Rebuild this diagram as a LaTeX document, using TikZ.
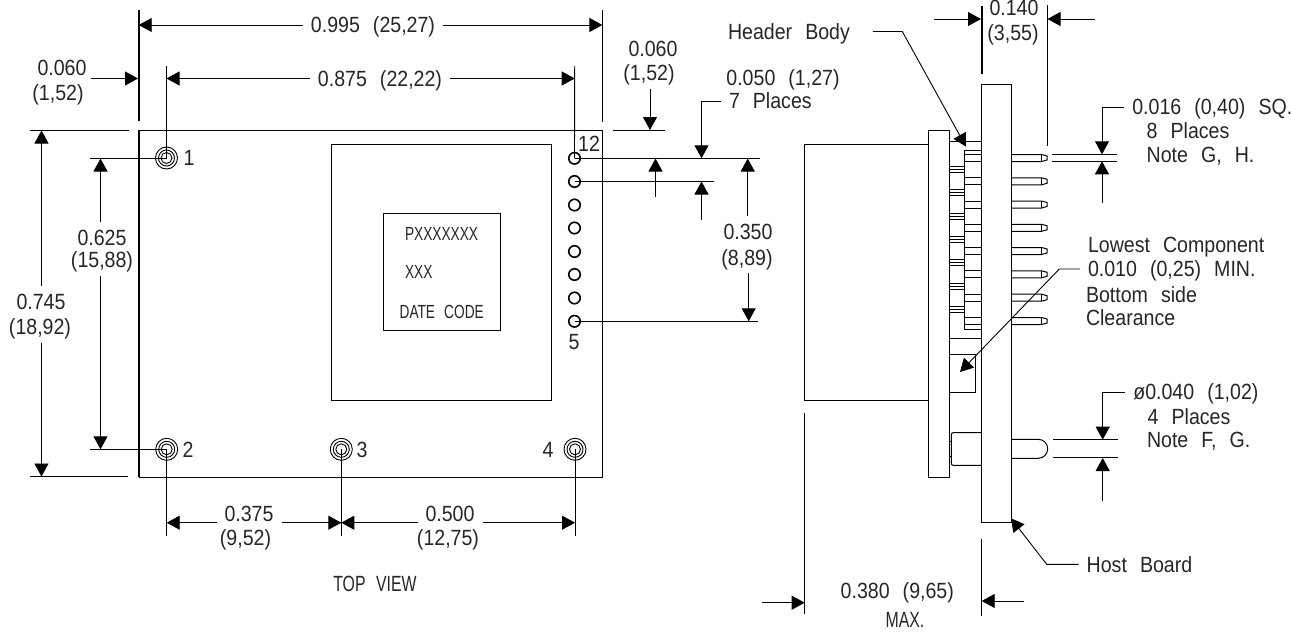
\documentclass[tikz,border=0pt]{standalone}
\usepackage{fontspec}
\setmainfont{Liberation Sans}[FakeStretch=0.89,WordSpace=2.4]
\newfontfamily\capsfont{Liberation Sans}[FakeStretch=0.72,WordSpace=2.4]
\usepackage{tikz}
\usetikzlibrary{arrows.meta}
\tikzset{
	dimline/.style={-{Triangle[length=13pt,width=14pt]},line width=0.9pt},
	extline/.style={line width=0.9pt},
	outline/.style={line width=1pt},
	thickline/.style={line width=2pt},
	dimtext/.style={inner sep=0pt,outer sep=8pt,text height=15.5pt,text depth=0pt,text=black!85,font=\fontsize{22}{24}\selectfont},
	captext/.style={dimtext,font=\fontsize{22}{24}\capsfont},
	boxtext/.style={dimtext,text height=13pt,font=\fontsize{19}{20}\capsfont},
	holering/.style={circle,draw,line width=0.9pt,inner sep=0pt},
	padhole/.style={circle,draw,line width=1.6pt,inner sep=0pt,minimum size=11.5pt}
}
\begin{document}
\begin{tikzpicture}[x=1pt,y=-1pt]
	\useasboundingbox (0,0) rectangle (1291,634);
	\draw[outline] (138.7,130) -- (602.5,130) -- (602.5,477.3) -- (138.7,477.3);
	\draw[thickline] (138.7,130) -- (138.7,477.3);
	\draw[outline] (331.5,144) rectangle (551.7,400.7);
	\draw[outline] (383.5,213.5) rectangle (500,330.5);
	\node[boxtext] (partno) at (441.5,234) {PXXXXXXX};
	\node[boxtext] (lotno) at (418.8,272) {XXX};
	\node[boxtext] (datecode) at (441.7,311.7) {DATE CODE};
	\foreach \nm/\xp/\yp in {1/166.5/158,2/166.7/449.3,3/341.3/449.3,4/575/449.3}{
		\node[holering,minimum size=22pt] (hole\nm) at (\xp,\yp) {};
		\node[holering,minimum size=16pt] (holem\nm) at (\xp,\yp) {};
		\node[holering,minimum size=11pt] (holei\nm) at (\xp,\yp) {};
	}
	\node[dimtext] (lab1) at (189,158) {1};
	\node[dimtext] (lab2) at (188,449.3) {2};
	\node[dimtext] (lab3) at (362,449.3) {3};
	\node[dimtext] (lab4) at (548,449.3) {4};
	\foreach \nm/\yp in {12/158.3,11/181.5,10/205,9/228,8/251.5,7/274.5,6/298,5/321.3}{
		\node[padhole] (pad\nm) at (574.5,\yp) {};
	}
	\node[dimtext] (lab12) at (589,144) {12};
	\node[dimtext] (lab5) at (574,341.6) {5};
	\coordinate (edgeL) at (138.7,10);
	\coordinate (edgeLb) at (138.7,121);
	\coordinate (edgeR) at (602.4,10);
	\coordinate (edgeRb) at (602.4,122);
	\draw[thickline] (edgeL) -- (edgeLb);
	\draw[extline] (edgeR) -- (edgeRb);
	\node[dimtext] (d995) at (373,25) {0.995 (25,27)};
	\draw[dimline] (d995.west) -- (d995.west -| edgeL);
	\draw[dimline] (d995.east) -- (d995.east -| edgeR);
	\coordinate (ext875a) at (166.5,66);
	\coordinate (ext875b) at (574.7,66);
	\node[dimtext] (d875) at (380,78.5) {0.875 (22,22)};
	\draw[extline] (ext875a) -- (hole1.center);
	\draw[extline] (ext875b) -- (pad12.center);
	\draw[dimline] (d875.west) -- (d875.west -| ext875a);
	\draw[dimline] (d875.east) -- (d875.east -| ext875b);
	\node[dimtext] (d060la) at (62,68) {0.060};
	\node[dimtext] (d060lb) at (58,93) {(1,52)};
	\coordinate (tip060l) at (138,78.5);
	\coordinate (from060l) at (91,78.5);
	\draw[dimline] (from060l) -- (tip060l);
	\coordinate (ext745a) at (30,130);
	\coordinate (ext745b) at (129,130);
	\coordinate (ext745c) at (30,476.7);
	\coordinate (ext745d) at (128,476.7);
	\draw[extline] (ext745a) -- (ext745b);
	\draw[extline] (ext745c) -- (ext745d);
	\node[dimtext] (d745a) at (41,301.7) {0.745};
	\node[dimtext] (d745b) at (40,327) {(18,92)};
	\coordinate (tip745t) at (41.5,130.5);
	\coordinate (tip745b) at (41.5,476.5);
	\draw[dimline] (tip745t |- d745a.north) -- (tip745t);
	\draw[dimline] (tip745b |- d745b.south) -- (tip745b);
	\coordinate (ext625a) at (90,158);
	\coordinate (ext625b) at (90,449.3);
	\draw[extline] (ext625a) -- (hole1.center);
	\draw[extline] (ext625b) -- (hole2.center);
	\node[dimtext] (d625a) at (102,238) {0.625};
	\node[dimtext] (d625b) at (102,260) {(15,88)};
	\coordinate (tip625t) at (100.5,158.5);
	\coordinate (tip625b) at (100.5,449.3);
	\draw[dimline] (tip625t |- d625a.north) -- (tip625t);
	\draw[dimline] (tip625b |- d625b.south) -- (tip625b);
	\coordinate (dimB) at (0,522.7);
	\coordinate (extB) at (0,535.5);
	\draw[extline] (hole2.center) -- (hole2 |- extB);
	\draw[extline] (hole3.center) -- (hole3 |- extB);
	\draw[extline] (hole4.center) -- (hole4 |- extB);
	\node[dimtext] (d375a) at (249,514) {0.375};
	\node[dimtext] (d375b) at (245.5,538) {(9,52)};
	\node[dimtext] (d500a) at (450,514) {0.500};
	\node[dimtext] (d500b) at (448,538) {(12,75)};
	\draw[dimline] (d375a.west |- dimB) -- (hole2 |- dimB);
	\draw[dimline] (d375a.east |- dimB) -- (hole3 |- dimB);
	\draw[dimline] (d500a.west |- dimB) -- (hole3 |- dimB);
	\draw[dimline] (d500a.east |- dimB) -- (hole4 |- dimB);
	\node[captext] (topview) at (375,584) {TOP VIEW};
	\node[dimtext] (d060ra) at (653,49) {0.060};
	\node[dimtext] (d060rb) at (649,73) {(1,52)};
	\coordinate (tip060r) at (650,130);
	\coordinate (ext060a) at (613,130);
	\coordinate (ext060b) at (665,130);
	\draw[extline] (ext060a) -- (ext060b);
	\draw[dimline] (tip060r |- d060rb.south) -- (tip060r);
	\node[dimtext] (d050) at (783,78) {0.050 (1,27)};
	\node[dimtext,anchor=west] (d7pl) at (721,101) {7 Places};
	\coordinate (tip050) at (701.5,158.3);
	\draw[dimline] (d7pl.west) -| (tip050);
	\coordinate (ext12) at (760,158.3);
	\coordinate (ext11) at (714,181.5);
	\coordinate (ext5) at (758,321.3);
	\draw[extline] (pad12.center) -- (ext12);
	\draw[extline] (pad11.center) -- (ext11);
	\draw[extline] (pad5.center) -- (ext5);
	\coordinate (from050a) at (655.5,197);
	\coordinate (tip050a) at (655.5,158.5);
	\coordinate (from050b) at (701.5,220);
	\coordinate (tip050b) at (701.5,181.5);
	\draw[dimline] (from050a) -- (tip050a);
	\draw[dimline] (from050b) -- (tip050b);
	\node[dimtext] (d350a) at (748,231.7) {0.350};
	\node[dimtext] (d350b) at (747,257.7) {(8,89)};
	\coordinate (tip350t) at (747.7,158.5);
	\coordinate (tip350b) at (748.7,321.3);
	\draw[dimline] (tip350t |- d350a.north) -- (tip350t);
	\draw[dimline] (tip350b |- d350b.south) -- (tip350b);
	\draw[outline] (928.3,144.3) -- (804.5,144.3) -- (804.5,400.7) -- (928.3,400.7);
	\draw[outline] (928.3,130.3) rectangle (949.7,477);
	\draw[outline] (981.7,84.7) rectangle (1011,522.3);
	\draw[outline] (949.7,141.7) -- (981.7,141.7);
	\draw[outline] (981.7,150) -- (964.3,150) -- (964.3,329.3) -- (981.7,329.3);
	\draw[outline] (949.7,338) -- (981.7,338);
	\foreach \yp in {158,181.3,204.5,227.8,251,274.3,297.7,321}{
		\draw[extline] (964.3,\yp-3.5) -- (981.7,\yp-3.5);
		\draw[extline] (964.3,\yp+3.5) -- (981.7,\yp+3.5);
		\draw[outline] (1011,\yp-3.5) -- (1041.7,\yp-3.5) -- (1047,\yp-2) -- (1047,\yp+2) -- (1041.7,\yp+3.5) -- (1011,\yp+3.5);
		\draw[extline] (1041.7,\yp-3.5) -- (1041.7,\yp+3.5);
	}
	\foreach \yp in {169.3,192.7,216,239.3,262.7,286,309.3}{
		\draw[extline] (949.7,\yp-3) -- (964.3,\yp-3);
		\draw[extline] (949.7,\yp) -- (964.3,\yp);
		\draw[extline] (949.7,\yp+3) -- (964.3,\yp+3);
	}
	\draw[outline] (949.7,354.3) rectangle (975.7,392);
	\draw[outline] (981.7,432.7) -- (953,432.7) to[out=180,in=90] (951.3,435) -- (951.3,463) to[out=-90,in=180] (953,465.3) -- (981.7,465.3);
	\draw[extline] (949.7,441) -- (951.3,441);
	\draw[extline] (949.7,456.7) -- (951.3,456.7);
	\draw[outline] (1011,439.3) -- (1038.2,439.3) arc[start angle=-90,end angle=90,radius=9.5] -- (1011,458.3);
	\coordinate (ext380a) at (804.7,413.3);
	\coordinate (ext380b) at (804.7,614.3);
	\coordinate (ext380c) at (981.7,539.3);
	\coordinate (ext380d) at (981.7,616);
	\draw[extline] (ext380a) -- (ext380b);
	\draw[extline] (ext380c) -- (ext380d);
	\node[dimtext] (d380) at (897.3,590.7) {0.380 (9,65)};
	\node[captext] (dmax) at (905,620) {MAX.};
	\coordinate (from380l) at (762,602.7);
	\coordinate (tip380l) at (804.7,602.7);
	\coordinate (from380r) at (1024.3,601);
	\coordinate (tip380r) at (981.7,601);
	\draw[dimline] (from380l) -- (tip380l);
	\draw[dimline] (from380r) -- (tip380r);
	\coordinate (ext140a) at (981.7,6);
	\coordinate (ext140b) at (981.7,74);
	\coordinate (ext140c) at (1047.3,5);
	\coordinate (ext140d) at (1047.3,146);
	\draw[thickline] (ext140a) -- (ext140b);
	\draw[extline] (ext140c) -- (ext140d);
	\node[dimtext] (d140a) at (1014,8) {0.140};
	\node[dimtext] (d140b) at (1013,33) {(3,55)};
	\coordinate (from140l) at (934,19);
	\coordinate (tip140l) at (981,19);
	\coordinate (from140r) at (1095,19);
	\coordinate (tip140r) at (1047.5,19);
	\draw[dimline] (from140l) -- (tip140l);
	\draw[dimline] (from140r) -- (tip140r);
	\node[dimtext,outer sep=23pt] (hbody) at (789,31.5) {Header Body};
	\coordinate (elbbody) at (902.3,31.5);
	\coordinate (tipbody) at (966,146.7);
	\draw[dimline] (hbody.east) -- (elbbody) -- (tipbody);
	\coordinate (ext016a) at (1052.3,154.3);
	\coordinate (ext016b) at (1117.3,154.3);
	\coordinate (ext016c) at (1052.3,161.3);
	\coordinate (ext016d) at (1117.3,161.3);
	\draw[extline] (ext016a) -- (ext016b);
	\draw[extline] (ext016c) -- (ext016d);
	\node[dimtext,anchor=west] (d016) at (1124.3,107) {0.016 (0,40) SQ.};
	\node[dimtext,anchor=west] (d8pl) at (1138.7,131) {8 Places};
	\node[dimtext,anchor=west] (dnotegh) at (1138.7,155) {Note G, H.};
	\coordinate (tip016t) at (1102,154.3);
	\coordinate (from016b) at (1102,203.3);
	\coordinate (tip016b) at (1102,161.3);
	\draw[dimline] (d016.west) -| (tip016t);
	\draw[dimline] (from016b) -- (tip016b);
	\node[dimtext,anchor=west] (dlowest) at (1080,244.3) {Lowest Component};
	\node[dimtext,anchor=west] (d010) at (1080,269) {0.010 (0,25) MIN.};
	\node[dimtext,anchor=west] (dbottom) at (1078,295) {Bottom side};
	\node[dimtext,anchor=west] (dclear) at (1078,318) {Clearance};
	\coordinate (elblow) at (1059.3,269);
	\coordinate (tiplow) at (960,372);
	\draw[dimline] (d010.west) -- (elblow) -- (tiplow);
	\coordinate (ext040a) at (1053.3,439.7);
	\coordinate (ext040b) at (1117.7,439.7);
	\coordinate (ext040c) at (1053.3,457.7);
	\coordinate (ext040d) at (1117.7,457.7);
	\draw[extline] (ext040a) -- (ext040b);
	\draw[extline] (ext040c) -- (ext040d);
	\node[dimtext,anchor=west] (d040) at (1125.3,392) {ø0.040 (1,02)};
	\node[dimtext,anchor=west] (d4pl) at (1139.7,417) {4 Places};
	\node[dimtext,anchor=west] (dnotefg) at (1139,440) {Note F, G.};
	\coordinate (tip040t) at (1102.7,439.7);
	\coordinate (from040b) at (1102.7,500.7);
	\coordinate (tip040b) at (1102.7,458);
	\draw[dimline] (d040.west) -| (tip040t);
	\draw[dimline] (from040b) -- (tip040b);
	\node[dimtext,anchor=west] (dhost) at (1078.7,564.3) {Host Board};
	\coordinate (elbhost) at (1046.7,564.3);
	\coordinate (tiphost) at (1011,518.3);
	\draw[dimline] (dhost.west) -- (elbhost) -- (tiphost);
\end{tikzpicture}
\end{document}
